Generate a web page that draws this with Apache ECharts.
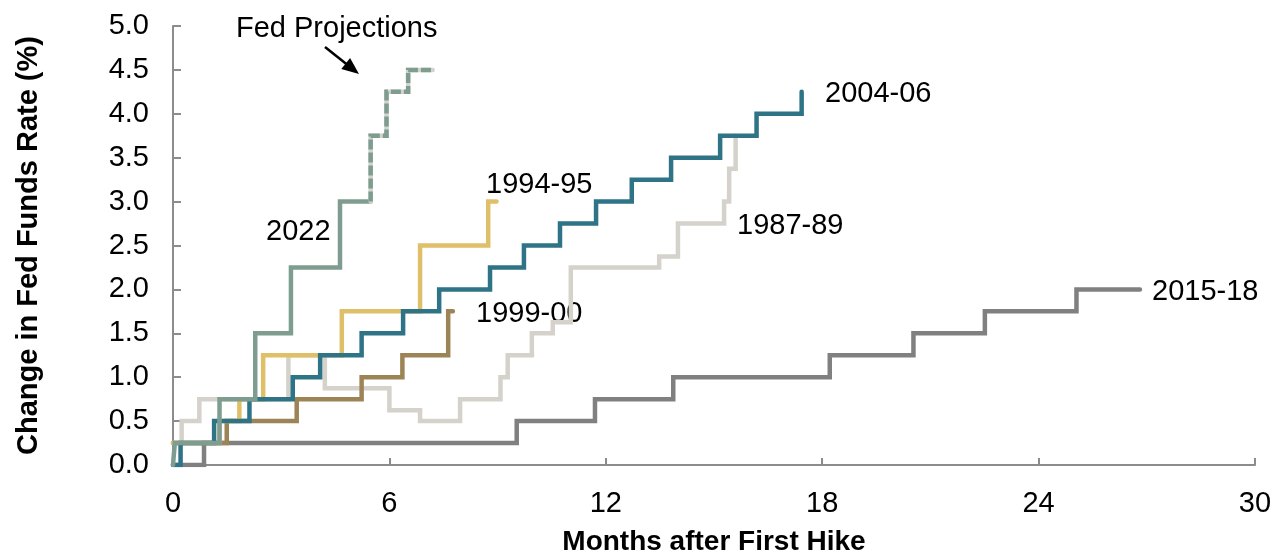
<!DOCTYPE html>
<html>
<head>
<meta charset="utf-8">
<script src="https://cdn.jsdelivr.net/npm/echarts@6/dist/echarts.min.js"></script>
<style>
html,body{margin:0;padding:0;background:#fff;}
#chart{width:1276px;height:554px;}
</style>
</head>
<body>
<div id="chart"></div>
<script>
// Data: [months after first hike, change in fed funds rate (%)] — rate reached at that month (step)
var s1987 = [[0,0.25],[0.24,0.5],[0.73,0.75],[3.2,1.25],[4.21,0.875],[6.0,0.625],[6.85,0.5],[7.96,0.75],[9.08,1.0],[9.28,1.25],[9.95,1.5],[10.53,1.625],[11.03,2.25],[13.48,2.375],[14.0,2.75],[15.28,3.0],[15.42,3.375],[15.6,3.75]];
var s2015 = [[0,0],[0.86,0.25],[9.53,0.5],[11.7,0.75],[13.87,1.0],[18.21,1.25],[20.53,1.5],[22.51,1.75],[25.05,2.0],[26.81,2.0]];
var s1999 = [[0,0.25],[1.49,0.5],[3.43,0.75],[5.23,1.0],[6.36,1.25],[7.63,1.75],[7.76,1.75]];
var s1994 = [[0,0.25],[1.29,0.5],[1.84,0.75],[2.5,1.25],[4.68,1.75],[6.85,2.5],[8.74,3.0],[8.97,3.0]];
var s2004 = [[0,0],[0.21,0.25],[1.14,0.5],[2.12,0.75],[3.32,1.0],[4.08,1.25],[5.23,1.5],[6.38,1.75],[7.38,2.0],[8.79,2.25],[9.73,2.5],[10.73,2.75],[11.73,3.0],[12.72,3.25],[13.81,3.5],[15.17,3.75],[16.18,4.0],[17.43,4.25]];
var s2022 = [[0,0],[0.05,0.25],[1.29,0.75],[2.28,1.5],[3.27,2.25],[4.63,3.0],[5.48,3.0]];
var fedProj = [[5.48,3.0],[5.48,3.75],[5.92,4.25],[6.52,4.5],[7.2,4.5]];

var seriesNames = ['1987-89','2015-18','1999-00','1994-95','2004-06','2022','Fed Projections'];
var xTicks = [0,6,12,18,24,30];

var chart = echarts.init(document.getElementById('chart'), null, {renderer:'canvas'});
var FONT = 'Liberation Sans, Arial, sans-serif';

function stepLine(name, data, color, z, extra){
  return {
    name: name, type: 'line', data: data, step: 'end',
    showSymbol: false, symbol: 'none', animation: false, z: z,
    lineStyle: Object.assign({color: color, width: 4.5, cap: 'round', join: 'miter'}, extra || {})
  };
}

var option = {
  animation: false,
  backgroundColor: '#ffffff',
  grid: {left: 173, right: 21, top: 26, bottom: 89, containLabel: false, outerBoundsMode: 'none'},
  xAxis: {
    type: 'value', min: 0, max: 30, interval: 6,
    name: 'Months after First Hike', nameLocation: 'middle', nameGap: 63, nameMoveOverlap: false,
    nameTextStyle: {fontFamily: FONT, fontSize: 28, fontWeight: 'bold', color: '#000'},
    axisLine: {show: true, lineStyle: {color: '#8c8c8c', width: 2}},
    axisTick: {show: true, inside: true, length: 7, lineStyle: {color: '#8c8c8c', width: 2}},
    axisLabel: {fontFamily: FONT, fontSize: 29, color: '#000', margin: 24},
    splitLine: {show: false}
  },
  yAxis: {
    type: 'value', min: 0, max: 5, interval: 0.5,
    name: 'Change in Fed Funds Rate (%)', nameLocation: 'middle', nameGap: 130, nameRotate: 90, nameMoveOverlap: false,
    nameTextStyle: {fontFamily: FONT, fontSize: 29, fontWeight: 'bold', color: '#000'},
    axisLine: {show: true, lineStyle: {color: '#8c8c8c', width: 2}},
    axisTick: {show: true, inside: true, length: 8, lineStyle: {color: '#8c8c8c', width: 2}},
    axisLabel: {fontFamily: FONT, fontSize: 29, color: '#000', margin: 24,
      formatter: function(v){ return v.toFixed(1); }},
    splitLine: {show: false}
  },
  series: [
    stepLine(seriesNames[0], s1987, '#d5d2cb', 2),
    stepLine(seriesNames[1], s2015, '#808080', 3),
    stepLine(seriesNames[2], s1999, '#9c8456', 4),
    stepLine(seriesNames[3], s1994, '#e0bf69', 5),
    stepLine(seriesNames[4], s2004, '#2e7386', 6),
    stepLine(seriesNames[5], s2022, '#7e9d90', 7),
    stepLine(seriesNames[6] + ' base', fedProj, '#d3d3cb', 8),
    stepLine(seriesNames[6], fedProj, '#7e9d90', 9, {type: [10, 3], cap: 'butt'})
  ],
  graphic: [
    {type:'text', left: 236, top: 14, style:{text:'Fed Projections', font:'29px ' + FONT, fill:'#000'}},
    {type:'line', shape:{x1:325, y1:47, x2:347, y2:64.5}, style:{stroke:'#000', lineWidth:2.5}},
    {type:'polygon', shape:{points:[[359,74],[341.3,68.9],[350.1,57.9]]}, style:{fill:'#000'}},
    {type:'text', left: 266, top: 217, style:{text:'2022', font:'29px ' + FONT, fill:'#000'}},
    {type:'text', left: 486, top: 170, style:{text:'1994-95', font:'29px ' + FONT, fill:'#000'}},
    {type:'text', left: 476, top: 299, style:{text:'1999-00', font:'29px ' + FONT, fill:'#000'}},
    {type:'text', left: 737, top: 211, style:{text:'1987-89', font:'29px ' + FONT, fill:'#000'}},
    {type:'text', left: 825, top: 79, style:{text:'2004-06', font:'29px ' + FONT, fill:'#000'}},
    {type:'text', left: 1152, top: 277, style:{text:'2015-18', font:'29px ' + FONT, fill:'#000'}}
  ]
};
chart.setOption(option);
</script>
</body>
</html>
